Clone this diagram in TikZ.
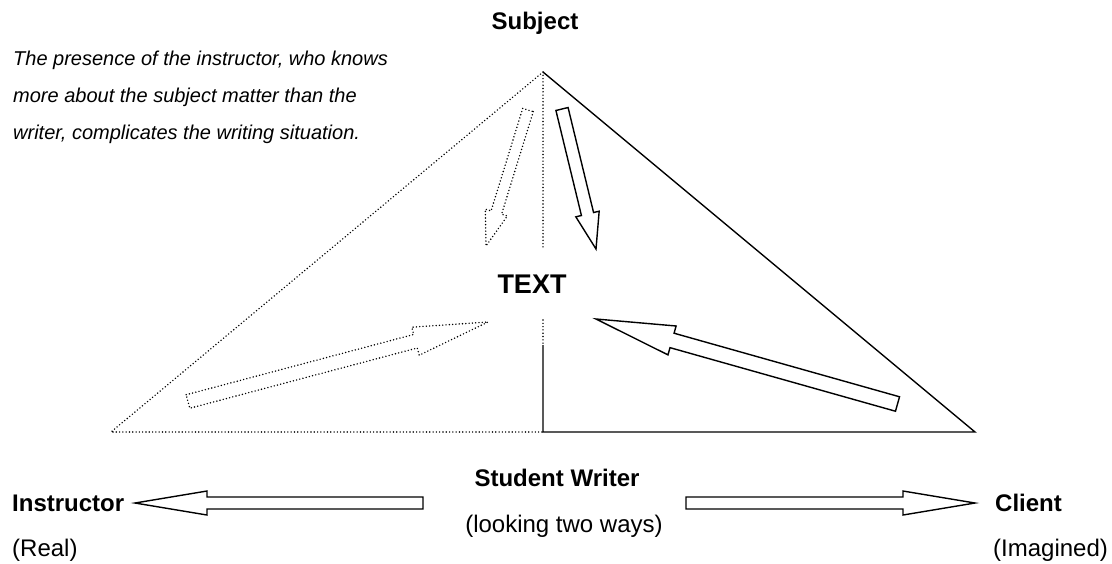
\documentclass[tikz,border=0pt]{standalone}
\usepackage{fontspec}
\setmainfont{Liberation Sans}
\usetikzlibrary{calc}
% hollow block arrow: [style]{tail}{tip}{shaft width}{head width}{head length}
\newcommand{\fatarrow}[6][]{%
  \coordinate (hb) at ($(#3)!#6!(#2)$);
  \draw[#1] ($(#2)!#4/2!90:(#3)$) -- ($(hb)!#4/2!90:(#3)$) -- ($(hb)!#5/2!90:(#3)$) -- (#3)
    -- ($(hb)!#5/2!-90:(#3)$) -- ($(hb)!#4/2!-90:(#3)$) -- ($(#2)!#4/2!-90:(#3)$) -- cycle;}
\begin{document}
\begin{tikzpicture}[x=1pt, y=-1pt, line join=miter,
  dotline/.style={line width=1.6pt, line cap=round, dash pattern=on 0pt off 3.3pt},
  solidline/.style={line width=1.4pt},
  lbl/.style={font=\fontsize{24}{28}\selectfont\bfseries, inner sep=0pt},
  sublbl/.style={font=\fontsize{24}{28}\selectfont, inner sep=0pt}]
\useasboundingbox (0,0) rectangle (1112,563);
\path
(543,72) coordinate (S)
(111,432) coordinate (L)
(975,432) coordinate (R)
(543,432) coordinate (M)
(543,248) coordinate (S1)
(543,320) coordinate (S2)
(543,345) coordinate (S3);
% triangle: dotted half for the instructor, solid half for the client
\draw[dotline] (S)--(L)--(M) (S)--(S1) (S2)--(S3);
\draw[solidline] (S3)--(M)--(R)--(S);
% arrows inside
\fatarrow[solidline]{562,109}{596,249}{12.5pt}{24pt}{36pt}
\fatarrow[dotline]{528,110}{486,246}{11pt}{23pt}{35pt}
\fatarrow[dotline]{188,401.5}{488,322}{14pt}{29pt}{75pt}
\fatarrow[solidline]{897.5,404}{596,319}{15pt}{30pt}{79pt}
% arrows below
\fatarrow[solidline]{423,503}{135,503}{12pt}{24pt}{72pt}
\fatarrow[solidline]{686,503}{975,503}{12pt}{24pt}{72pt}
\node[lbl, anchor=base] (subject) at (535,29) {Subject};
\node[lbl, font=\fontsize{27}{30}\selectfont\bfseries, anchor=base] (text) at (532,293) {TEXT};
\node[lbl, anchor=base] (writer) at (557,486) {Student Writer};
\node[sublbl, anchor=base] (ways) at (564,532) {(looking two ways)};
\node[lbl, anchor=base west] (instr) at (12,511) {Instructor};
\node[sublbl, anchor=base west] (real) at (12,556) {(Real)};
\node[lbl, anchor=base west] (client) at (995,511) {Client};
\node[sublbl, anchor=base west] (imag) at (993,556) {(Imagined)};
\node[font=\fontsize{20}{37}\selectfont\itshape, align=left, inner sep=0pt, anchor=north west] (note) at (13,51)
  {The presence of the instructor, who knows\\ more about the subject matter than the\\ writer, complicates the writing situation.};
\end{tikzpicture}
\end{document}
